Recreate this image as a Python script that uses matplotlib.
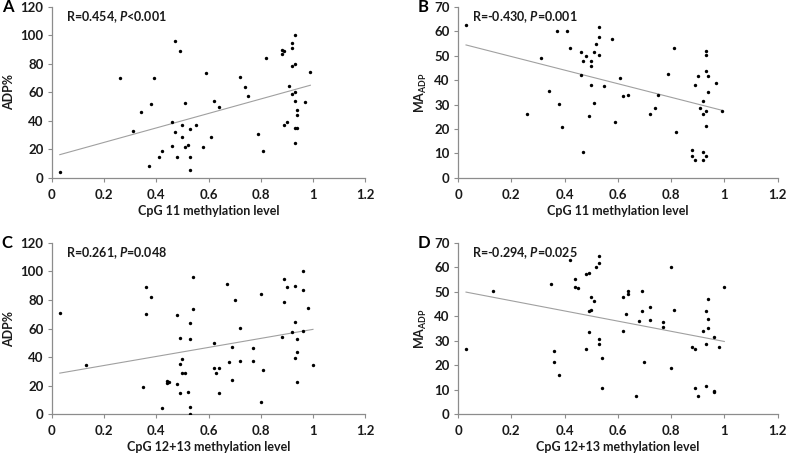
import matplotlib
matplotlib.use("Agg")
import matplotlib.pyplot as plt
import numpy as np

plt.rcParams['font.family'] = ['Lato', 'DejaVu Sans']
plt.rcParams['mathtext.fontset'] = 'custom'
plt.rcParams['mathtext.rm'] = 'Lato:bold'
plt.rcParams['mathtext.it'] = 'Lato:bold:italic'
plt.rcParams['mathtext.bf'] = 'Lato:bold'

# ---- Panel A: CpG 11 vs ADP% ----
a_x = [0.03, 0.26, 0.31, 0.34, 0.37, 0.38, 0.39, 0.41, 0.42, 0.46, 0.46, 0.47, 0.47, 0.48,
       0.49, 0.50, 0.50, 0.51, 0.51, 0.52, 0.53, 0.53, 0.53, 0.55, 0.58, 0.59, 0.61, 0.62,
       0.64, 0.72, 0.74, 0.75, 0.79, 0.81, 0.82, 0.88, 0.88, 0.89, 0.89, 0.90, 0.91, 0.92,
       0.92, 0.92, 0.92, 0.93, 0.93, 0.93, 0.93, 0.93, 0.93, 0.94, 0.94, 0.94, 0.97, 0.99]
a_y = [4, 70, 32.6, 46, 8.6, 51.5, 70, 15, 19, 39, 22.6, 96, 32, 15,
       89, 29, 37, 52.5, 22, 23, 34.5, 14.5, 5.4, 37.3, 21.7, 73.7, 29, 53.6,
       50, 71, 64, 57.6, 31, 18.6, 84, 87, 90, 89, 37, 39, 64.6, 94.4,
       91, 78.5, 58.7, 100, 80, 60.6, 53.8, 34.7, 24.2, 47.3, 43.8, 35, 53, 74.4]
a_fit = [16.3, 65.0]

# ---- Panel B: CpG 11 vs MA_ADP ----
b_x = [0.03, 0.26, 0.31, 0.34, 0.37, 0.38, 0.39, 0.41, 0.42, 0.46, 0.46, 0.47, 0.47, 0.48,
       0.49, 0.50, 0.50, 0.50, 0.51, 0.51, 0.52, 0.53, 0.53, 0.53, 0.55, 0.58, 0.59, 0.61,
       0.62, 0.64, 0.72, 0.74, 0.75, 0.79, 0.81, 0.82, 0.88, 0.88, 0.89, 0.89, 0.90, 0.91,
       0.92, 0.92, 0.92, 0.92, 0.93, 0.93, 0.93, 0.93, 0.93, 0.93, 0.94, 0.94, 0.97, 0.99]
b_y = [62.5, 26.2, 49, 35.6, 60, 30.1, 20.9, 60, 53, 51.4, 42.2, 47.7, 10.5, 50,
       25.5, 47.7, 45.8, 38, 51.7, 30.7, 54.8, 61.8, 57.6, 50.3, 37.7, 57, 22.8, 40.8,
       33.4, 33.8, 26.3, 28.5, 34, 42.6, 53, 18.8, 11.6, 8.9, 38.2, 7.5, 41.9, 28.6,
       31.4, 26.3, 10.4, 7.5, 52, 50.3, 43.7, 27.3, 21.3, 9.1, 41.9, 35.2, 38.7, 27.3]
b_fit = [54.4, 27.7]

# ---- Panel C: CpG 12+13 vs ADP% ----
c_x = [0.03, 0.13, 0.35, 0.36, 0.36, 0.38, 0.42, 0.44, 0.44, 0.45, 0.48, 0.48, 0.49, 0.49,
       0.49, 0.50, 0.50, 0.51, 0.52, 0.53, 0.53, 0.53, 0.53, 0.54, 0.54, 0.62, 0.62, 0.63,
       0.64, 0.64, 0.67, 0.68, 0.69, 0.69, 0.70, 0.72, 0.72, 0.77, 0.77, 0.81, 0.80, 0.80,
       0.88, 0.89, 0.89, 0.90, 0.92, 0.93, 0.93, 0.93, 0.94, 0.94, 0.94, 0.96, 0.96, 0.96,
       0.98, 1.00]
c_y = [70.9, 34.5, 18.9, 89, 70, 81.8, 4, 23, 21.7, 22.6, 69.7, 21.4, 53.4, 35,
       14.5, 38.7, 29, 29, 15.2, 64, 52.4, 5.1, 0.2, 95.8, 73.7, 50, 32, 29,
       32.6, 14.9, 91, 36.8, 47, 24.2, 80.2, 60.6, 37, 46, 37.3, 30.8, 84, 8.6,
       53.8, 94.4, 78.3, 89, 57.6, 89.7, 64.8, 39.2, 52.9, 43.8, 22.4, 100, 86.7, 58.5,
       74.4, 34.5]
c_fit = [28.7, 59.4]

# ---- Panel D: CpG 12+13 vs MA_ADP ----
d_x = [0.03, 0.13, 0.35, 0.36, 0.36, 0.38, 0.42, 0.44, 0.44, 0.45, 0.48, 0.48, 0.49, 0.49,
       0.49, 0.50, 0.50, 0.51, 0.52, 0.53, 0.53, 0.53, 0.53, 0.54, 0.54, 0.62, 0.62, 0.63,
       0.64, 0.64, 0.67, 0.68, 0.69, 0.69, 0.70, 0.72, 0.72, 0.77, 0.77, 0.80, 0.80, 0.81,
       0.88, 0.89, 0.89, 0.90, 0.92, 0.93, 0.93, 0.93, 0.94, 0.94, 0.94, 0.96, 0.96, 0.96,
       0.98, 1.00]
d_y = [26.6, 50.5, 53.2, 25.9, 21.1, 15.8, 62.9, 55.1, 52, 51.7, 57.2, 26.5, 57.7, 42,
       33.7, 42.4, 47.9, 46.1, 60.3, 64.8, 61.9, 30.8, 28.6, 22.9, 10.6, 47.9, 34.1, 40.9,
       50.2, 49.2, 7.5, 38.2, 50.5, 42, 21.4, 43.8, 38.3, 37.8, 35.7, 60, 18.8, 42.7,
       27.3, 26.5, 10.6, 7.5, 34.1, 42, 28.8, 11.6, 47, 38.7, 35.3, 31.5, 9.3, 8.9,
       27.3, 52.1]
d_fit = [49.9, 29.7]

x_ticks = [0, 0.2, 0.4, 0.6, 0.8, 1, 1.2]
x_ticklabels = ['0', '0.2', '0.4', '0.6', '0.8', '1', '1.2']

panels = [
    dict(letter='A', x=a_x, y=a_y, fit=a_fit, ymax=120, ystep=20, ylabel='ADP%',
         xlabel='CpG 11 methylation level', stat=('R=0.454, ', '<0.001'),
         rect=[0.066, 0.609, 0.398, 0.376]),
    dict(letter='B', x=b_x, y=b_y, fit=b_fit, ymax=70, ystep=10, ylabel=r'MA$_{\mathrm{ADP}}$',
         xlabel='CpG 11 methylation level', stat=('R=-0.430, ', '=0.001'),
         rect=[0.582, 0.609, 0.406, 0.376]),
    dict(letter='C', x=c_x, y=c_y, fit=c_fit, ymax=120, ystep=20, ylabel='ADP%',
         xlabel='CpG 12+13 methylation level', stat=('R=0.261, ', '=0.048'),
         rect=[0.066, 0.090, 0.398, 0.376]),
    dict(letter='D', x=d_x, y=d_y, fit=d_fit, ymax=70, ystep=10, ylabel=r'MA$_{\mathrm{ADP}}$',
         xlabel='CpG 12+13 methylation level', stat=('R=-0.294, ', '=0.025'),
         rect=[0.582, 0.090, 0.406, 0.376]),
]

fig = plt.figure(figsize=(7.87, 4.55), dpi=100)
spine_col = '#8c8c8c'
fs_tick = 9.5
fs_lab = 9

for p in panels:
    ax = fig.add_axes(p['rect'])
    ax.scatter(p['x'], p['y'], s=6, color='black', zorder=3, linewidths=0)
    fx = [min(p['x']), max(p['x'])]
    ax.plot(fx, p['fit'], color='#a0a0a0', lw=0.8, zorder=2)
    ax.set_xlim(0, 1.2)
    ax.set_ylim(0, p['ymax'])
    ax.set_xticks(x_ticks)
    ax.set_xticklabels(x_ticklabels)
    ax.set_yticks(np.arange(0, p['ymax'] + 1, p['ystep']))
    for s in ['top', 'right']:
        ax.spines[s].set_visible(False)
    for s in ['left', 'bottom']:
        ax.spines[s].set_color(spine_col)
        ax.spines[s].set_linewidth(0.9)
    ax.tick_params(axis='both', colors=spine_col, labelcolor='#1a1a1a', length=3,
                   width=0.8, direction='out', labelsize=fs_tick, pad=3)
    ax.tick_params(axis='x', pad=5)
    for lab in ax.get_xticklabels() + ax.get_yticklabels():
        lab.set_fontweight('bold')
    ax.set_xlabel(p['xlabel'], fontsize=fs_lab, fontweight='bold', color='#1a1a1a', labelpad=3)
    ax.set_ylabel(p['ylabel'], fontsize=fs_lab, fontweight='bold', color='#1a1a1a', labelpad=4)
    s1, s2 = p['stat']
    ax.text(0.045, 0.94, s1 + r'$P$' + s2, transform=ax.transAxes, fontsize=fs_lab,
            fontweight='bold', color='#1a1a1a', va='center', ha='left')
    ax.text(-0.16 if p['letter'] in 'AC' else -0.125, 1.0, p['letter'], transform=ax.transAxes,
            fontsize=12, fontweight='bold', color='black', va='center', ha='left')

fig.savefig('out.png', dpi=100)
